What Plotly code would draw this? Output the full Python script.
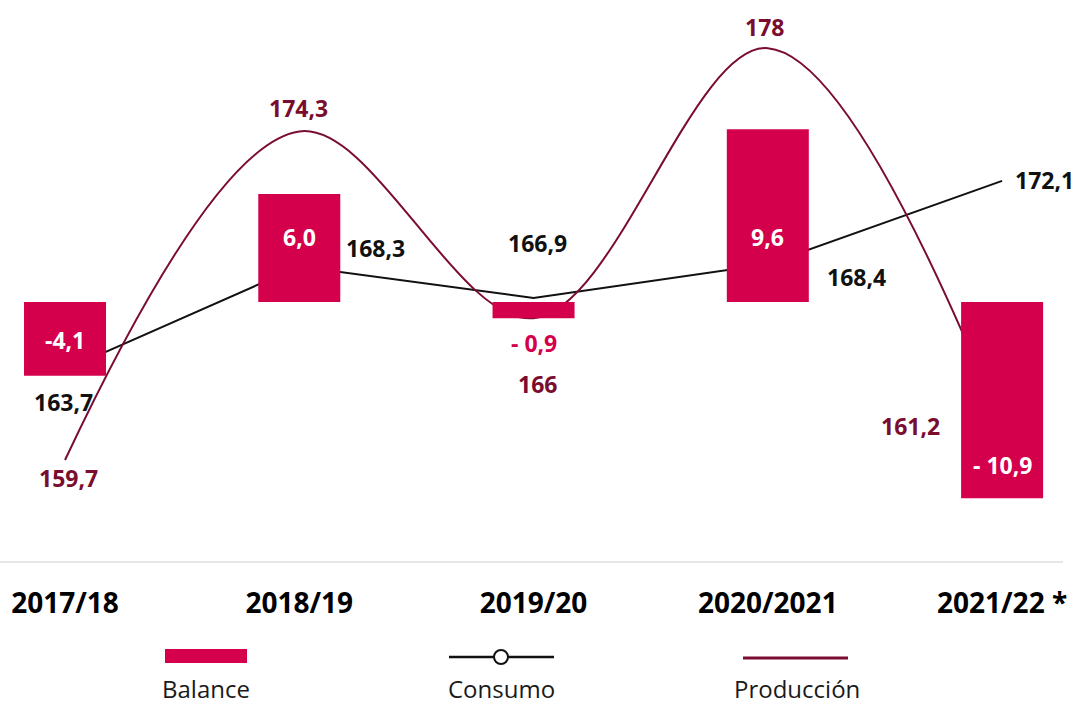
"""Balance, consumo y producción por campaña."""

import plotly.graph_objects as go

campanas = ["2017/18", "2018/19", "2019/20", "2020/2021", "2021/22 *"]
balance = [-4.1, 6.0, -0.9, 9.6, -10.9]
consumo = [163.7, 168.3, 166.9, 168.4, 172.1]
produccion = [159.7, 174.3, 166.0, 178.0, 161.2]

balance_txt = ["-4,1", "6,0", "- 0,9", "9,6", "- 10,9"]
consumo_txt = ["163,7", "168,3", "166,9", "168,4", "172,1"]
produccion_txt = ["159,7", "174,3", "166", "178", "161,2"]

ROJO = "#d5004b"
GRANATE = "#7a0c30"
NEGRO = "#111111"
FONT = "Open Sans, sans-serif"

W, H = 1076, 704
ML, MR, MT, MB = 0, 13, 0, 143
PW, PH = W - ML - MR, H - MT - MB


def px(x):
    return (x - ML) / PW


def py(y):
    return (H - MB - y) / PH


fig = go.Figure()

fig.add_trace(go.Bar(
    x=campanas, y=balance, yaxis="y2", width=0.35,
    marker=dict(color=ROJO, line_width=0), name="Balance",
    hoverinfo="y"))

fig.add_trace(go.Scatter(
    x=campanas, y=consumo, mode="lines",
    line=dict(color=NEGRO, width=2), name="Consumo"))

fig.add_trace(go.Scatter(
    x=campanas, y=produccion, mode="lines",
    line=dict(color=GRANATE, width=2, shape="spline", smoothing=1.0),
    name="Producción"))

# etiquetas de valores (desplazamientos en px)
off_bal = [(0, -1), (0, 11), (0, -33), (0, -21), (0, -65)]
off_con = [(-2, -32), (76, 18), (4, 55), (89, -13), (42, 1)]
off_pro = [(3, -18), (-1, 23), (4, -66), (-3, 21), (-92, 0)]

ann = []
for i, c in enumerate(campanas):
    clr = ROJO if balance[i] > -1 and balance[i] < 0 else "white"
    ann.append(dict(x=c, y=balance[i] / 2, xref="x", yref="y2",
                    text=f"<b>{balance_txt[i]}</b>", showarrow=False,
                    xshift=off_bal[i][0], yshift=off_bal[i][1],
                    font=dict(size=23, color=clr, family=FONT)))
    ann.append(dict(x=c, y=consumo[i], xref="x", yref="y",
                    text=f"<b>{consumo_txt[i]}</b>", showarrow=False,
                    xshift=off_con[i][0], yshift=off_con[i][1],
                    font=dict(size=23, color=NEGRO, family=FONT)))
    ann.append(dict(x=c, y=produccion[i], xref="x", yref="y",
                    text=f"<b>{produccion_txt[i]}</b>", showarrow=False,
                    xshift=off_pro[i][0], yshift=off_pro[i][1],
                    font=dict(size=23, color=GRANATE, family=FONT)))

# leyenda a mano: símbolo arriba, texto debajo
leyenda = [("Balance", 206), ("Consumo", 501), ("Producción", 797)]
for nombre, cx in leyenda:
    ann.append(dict(x=px(cx), y=py(688), xref="paper", yref="paper",
                    text=nombre, showarrow=False, xanchor="center", yanchor="middle",
                    font=dict(size=24, color="#1a1a1a", family=FONT)))

shapes = [
    dict(type="rect", xref="paper", yref="paper", x0=px(165), x1=px(247),
         y0=py(663), y1=py(649), fillcolor=ROJO, line_width=0),
    dict(type="line", xref="paper", yref="paper", x0=px(449), x1=px(554),
         y0=py(657), y1=py(657), line=dict(color=NEGRO, width=2.5)),
    dict(type="circle", xref="paper", yref="paper", x0=px(494), x1=px(508),
         y0=py(664), y1=py(650), fillcolor="white", line=dict(color=NEGRO, width=2)),
    dict(type="line", xref="paper", yref="paper", x0=px(743), x1=px(848),
         y0=py(658), y1=py(658), line=dict(color=GRANATE, width=3)),
]

fig.update_layout(
    width=W, height=H, showlegend=False,
    plot_bgcolor="white", paper_bgcolor="white",
    margin=dict(l=ML, r=MR, t=MT, b=MB),
    font=dict(family=FONT),
    xaxis=dict(type="category", range=[-0.2775, 4.26], showgrid=False,
               showline=True, linecolor="#e6e6e6", linewidth=2,
               ticks="", ticklabelstandoff=16,
               tickfont=dict(size=28, color="black", family=FONT, weight="bold")),
    yaxis=dict(range=[155.21, 180.14], visible=False, showgrid=False),
    yaxis2=dict(range=[-14.39, 16.78], overlaying="y", visible=False, showgrid=False),
    annotations=ann, shapes=shapes,
)

fig.write_html("out.html", config={"displayModeBar": False},
               post_script="document.body.style.margin='0';")
